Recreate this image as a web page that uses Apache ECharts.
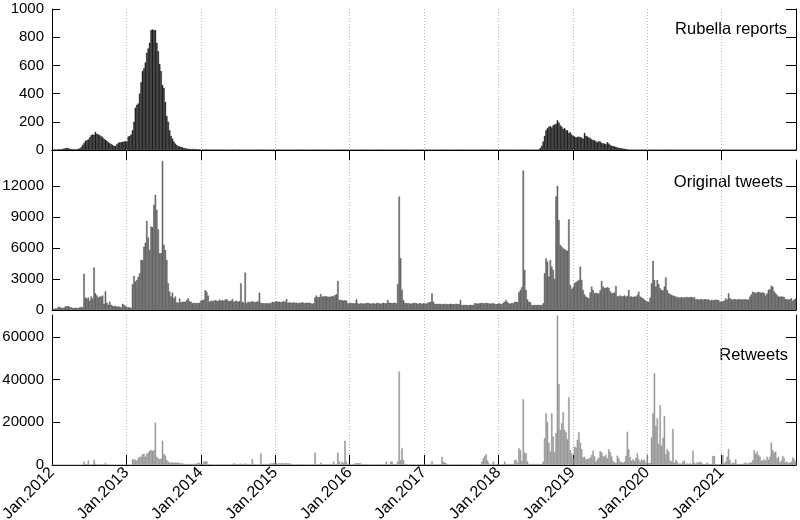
<!DOCTYPE html>
<html><head><meta charset="utf-8">
<script src="https://cdn.jsdelivr.net/npm/echarts@6/dist/echarts.min.js"></script>
<style>html,body{margin:0;padding:0;background:#fff}#c{width:800px;height:520px}</style>
</head><body><div id="c"></div>
<script>
// ---- data: weekly counts, week 0 starts 1 Jan 2012 ----
const startYear = 2012;
const endYear = 2022;
const yearTicks = [2012,2013,2014,2015,2016,2017,2018,2019,2020,2021];
const rubellaTicks = [0,200,400,600,800,1000];
const tweetTicks = [0,3000,6000,9000,12000];
const retweetTicks = [0,20000,40000,60000];
const panelTitles = ['Rubella reports','Original tweets','Retweets'];

const rubella = [
2,3,4,3,5,6,5,8,10,12,
15,12,8,6,5,6,5,6,8,12,
20,35,50,65,70,75,90,105,110,108,
128,115,110,105,98,90,80,72,65,55,
48,42,35,30,28,40,50,55,55,58,
60,62,60,95,100,110,140,200,300,320,
330,400,480,560,580,620,690,720,760,850,
855,850,850,760,700,610,560,460,440,340,
240,200,140,100,80,60,45,35,28,25,
22,18,15,12,10,8,8,7,6,8,
5,6,4,5,4,3,4,3,5,3,
3,4,2,3,2,3,2,2,3,2,
2,3,2,2,1,2,3,2,2,1,
2,2,1,2,3,2,2,1,2,2,
2,1,2,2,1,2,2,3,2,1,
2,2,1,2,1,2,2,1,2,2,
1,2,2,1,2,1,2,1,2,2,
1,2,1,2,1,2,1,1,2,1,
2,1,1,2,1,2,1,1,2,1,
1,2,1,1,2,1,1,2,1,1,
2,1,1,2,1,1,2,1,1,2,
1,1,2,1,1,2,1,1,1,2,
1,1,2,1,1,1,2,1,1,1,
2,1,1,1,2,1,1,1,2,1,
1,1,2,1,1,1,1,2,1,1,
1,2,1,1,1,1,2,1,1,1,
2,1,1,1,1,2,1,1,1,1,
2,1,1,1,1,1,2,1,1,1,
1,2,1,1,1,1,1,2,1,1,
1,1,2,1,1,1,1,1,2,1,
1,1,1,2,1,1,1,1,1,2,
1,1,1,1,2,1,1,1,1,1,
2,1,1,1,1,1,2,1,1,1,
1,2,1,1,1,1,1,2,1,1,
2,5,15,30,60,100,140,155,165,170,
160,175,180,185,210,195,175,165,150,155,
140,140,120,125,110,100,95,90,92,95,
90,88,80,120,100,95,88,85,75,70,
70,60,55,62,60,50,48,45,40,55,
45,35,30,28,25,22,18,15,14,12,
10,8,6,5,4,3,3,2,2,2,
2,1,2,1,1,2,1,1,1,2,
1,1,2,1,1,1,1,2,1,1,
1,1,1,2,1,1,1,1,1,1,
1,0,1,1,0,1,1,0,1,1,
1,0,1,0,1,1,0,1,0,1,
0,1,0,1,0,0,1,0,1,0,
1,0,0,1,0,1,0,0,1,0,
0,1,0,0,1,0,0,1,0,0,
1,0,0,1,0,0,0,1,0,0,
0,1,0,0,0,1,0,0,0,1,
0,0,1,0,0,0,1,0,0,0,
0,1
];

const tweets = [
100,120,130,150,300,280,220,200,230,350,
380,350,300,250,200,200,220,180,200,250,
300,250,3500,1200,1100,1200,900,1300,1100,4100,
1600,1400,1200,1300,1300,1400,600,1800,700,500,
800,500,400,350,400,300,350,300,250,600,
500,400,300,250,250,200,2500,3300,2750,2900,
3200,3550,4850,4800,6100,6500,8600,7000,5800,8060,
8000,10160,11130,9680,7800,5480,5500,14400,6300,5800,
4840,2580,1770,1300,1680,1130,1300,740,700,1100,
740,800,800,800,970,1130,850,800,650,700,
650,700,650,700,900,950,1000,1930,1770,1390,
800,900,850,900,950,900,850,1000,900,950,
900,1000,1060,900,850,900,1060,800,850,900,
800,850,2580,800,700,3610,650,800,750,800,
850,800,750,800,850,1680,700,650,650,650,
650,650,650,650,800,750,800,850,800,800,
750,800,850,800,1060,700,750,700,700,750,
700,700,650,700,700,750,700,650,700,700,
700,650,600,650,1230,1400,1230,1250,1550,1300,
1300,1350,1300,1300,1250,1300,1350,1300,1450,1500,
2800,970,950,970,900,950,900,650,650,700,
650,650,650,1030,650,600,650,650,600,650,
650,700,650,600,650,650,600,650,700,650,
600,650,700,650,650,970,700,700,650,700,
700,650,2520,10970,5000,1940,970,700,650,650,
650,600,650,650,700,650,600,650,650,600,
650,650,600,700,750,800,1610,800,600,580,
580,600,580,550,580,600,580,550,580,600,
580,550,580,600,580,550,970,480,480,500,
480,450,480,500,480,480,650,650,600,650,
650,700,650,650,700,650,650,600,650,650,
600,550,600,650,600,550,700,800,970,750,
650,600,700,650,800,800,750,1700,1940,2200,
13480,3870,1940,1000,800,750,480,480,500,480,
480,500,480,480,650,3550,5000,4680,3230,4840,
4200,3870,3000,10970,12000,8700,6290,6130,5970,5870,
5800,5700,8770,2420,2030,2200,2580,2700,2800,2900,
4190,2900,1940,1500,1290,1200,1130,1700,2260,1940,
1610,1670,1600,1610,1900,2800,2260,2100,2150,2200,
2150,1800,1610,1650,1670,2320,1290,1350,1400,1300,
1350,1400,1300,1350,1940,1290,1300,1250,1300,1290,
1450,1770,1290,1200,1130,1000,900,780,800,1200,
2580,4740,2900,2260,2900,2500,2100,1940,1900,2260,
3160,1940,1610,1550,1450,1400,1350,1290,1250,1200,
1200,1250,1200,1200,1250,1250,1200,1250,1250,1200,
1250,1030,1050,1000,1030,1050,1000,1030,1050,1000,
1030,900,970,950,970,1000,970,950,800,800,
850,900,1130,1000,1610,1130,1030,1000,1050,1030,
1000,1050,1030,1000,1030,1000,1050,1000,1000,1290,
1500,1770,1700,1650,1700,1750,1700,1650,1700,1650,
1400,1600,1940,2000,2350,2250,1800,1610,1450,1290,
1290,1300,1290,1250,1030,1050,1000,1030,1130,900,
1000,1100
];

const retweets = [
100,150,100,120,200,150,100,150,120,100,
150,200,150,100,120,150,100,150,200,150,
200,200,1560,300,500,2030,300,200,400,2340,
600,300,300,250,300,300,250,940,300,250,
200,250,200,200,250,200,200,250,200,250,
200,200,200,250,200,200,2660,2660,2340,2030,
3125,3900,3900,5150,5150,3900,5150,5800,6700,7000,
6500,7000,19840,3900,3125,2660,3000,11400,5150,4375,
2340,1560,1100,1100,1100,1100,1100,1100,1100,780,
780,780,470,470,470,470,470,470,470,470,
600,500,1100,780,600,500,1560,1700,1700,500,
300,300,300,250,300,300,250,300,300,250,
300,300,250,300,300,300,300,780,470,470,
470,470,600,470,470,700,470,470,470,470,
2660,470,300,300,300,300,5470,500,500,500,
500,500,500,780,700,900,800,780,700,800,
780,900,700,780,800,700,780,300,300,300,
300,300,300,300,300,300,300,300,300,300,
300,300,300,300,5780,300,300,300,1100,300,
300,300,300,300,300,300,300,1560,300,300,
5780,1560,500,1560,800,11400,1560,400,300,300,
300,300,780,780,780,780,780,300,300,300,
300,300,300,300,300,300,300,300,300,300,
300,300,300,300,1560,300,300,1560,1560,400,
400,400,1560,43750,2340,7800,2340,400,400,300,
300,300,300,300,300,300,300,300,300,300,
300,300,300,300,300,300,1875,300,300,300,
300,300,300,3900,1560,1100,780,300,300,300,
300,300,300,300,300,300,300,300,300,300,
300,300,300,300,300,300,300,300,300,300,
300,1560,3125,4200,5000,2030,780,300,300,1560,
400,400,400,400,300,300,300,1560,400,400,
400,400,400,400,2340,2340,1000,7800,7000,2000,
30800,5780,5470,1560,470,470,470,470,470,470,
470,470,470,470,1560,12500,24200,20000,10470,6250,
24200,13300,6000,15000,70000,37970,16400,19530,24700,16400,
15300,12000,31700,7000,5470,3000,8600,8100,11700,15300,
10470,7340,3500,3900,2660,2800,3000,3500,4690,6720,
4000,1560,2660,3500,6560,5780,4220,3900,4690,3000,
7340,6100,4000,1900,1200,780,4375,3125,1560,1300,
1100,1500,4220,15600,7340,3600,2000,2660,1800,3400,
5470,2660,1500,2660,2030,2500,1000,4840,780,1000,
13000,24200,42970,18280,21900,9840,28000,9060,12800,23000,
5000,7340,6250,2030,1560,16900,1000,2340,1560,470,
780,470,1560,2030,470,780,470,780,470,6720,
1100,470,1250,1000,1560,1100,470,470,470,1100,
470,470,470,4220,4220,470,300,300,300,470,
4690,800,1560,3900,7500,2340,600,1100,800,2660,
470,470,470,470,470,780,1100,600,780,1100,
1100,2340,7000,5150,6250,4690,3900,2030,2030,2800,
2030,3900,2500,3900,10470,7000,5780,6250,3125,3900,
1100,2000,4220,3125,1100,1560,780,1100,1500,3600,
2660,1500
];

// ---- build chart ----
const FONT = 'Liberation Sans, Arial, Helvetica, sans-serif';
const weekPos = i => startYear + (7 * i + 3.5) / 365.25;
const toPairs = arr => arr.map((v, i) => [weekPos(i), v]);

const grids = [
  {left: 52, right: 4, top: 9, height: 141, containLabel: false, outerBoundsMode: 'none'},
  {left: 52, right: 4, top: 160, height: 150, containLabel: false, outerBoundsMode: 'none'},
  {left: 52, right: 4, top: 315, height: 150, containLabel: false, outerBoundsMode: 'none'}
];
const yMax = [1000, 14500, 70300];
const yTicks = [rubellaTicks, tweetTicks, retweetTicks];
const fills = [
  {color: '#2e2e2e', borderColor: '#000000'},
  {color: '#808080', borderColor: '#303030'},
  {color: '#a4a4a4', borderColor: '#828282'}
];
const seriesData = [rubella, tweets, retweets];

const black = {color: '#000', width: 1};
const xAxes = [];
const yAxes = [];
grids.forEach((g, k) => {
  xAxes.push({
    type: 'value', gridIndex: k, min: startYear, max: endYear, interval: 1,
    position: 'bottom',
    axisLine: {show: true, lineStyle: black},
    axisTick: {show: k === 2, inside: true, length: 10, lineStyle: black, customValues: yearTicks},
    axisLabel: {show: k === 2, rotate: 45, margin: 5, fontFamily: FONT, fontSize: 16, color: '#000',
      customValues: yearTicks, formatter: v => 'Jan.' + v},
    splitLine: {show: true, lineStyle: {type: [1, 2], color: '#b5b5b5', width: 1}}
  });
  if (k === 0) {
    xAxes.push({
      type: 'value', gridIndex: 0, min: startYear, max: endYear, interval: 1,
      position: 'top',
      axisLine: {show: true, lineStyle: black},
      axisTick: {show: true, inside: true, length: 10, lineStyle: black, customValues: yearTicks},
      axisLabel: {show: false}, splitLine: {show: false}
    });
  }
  const base = {
    type: 'value', gridIndex: k, min: 0, max: yMax[k],
    axisLine: {show: true, lineStyle: black},
    splitLine: {show: false}
  };
  yAxes.push(Object.assign({}, base, {
    position: 'left',
    axisTick: {show: true, inside: true, length: 8, lineStyle: black, customValues: yTicks[k]},
    axisLabel: {show: true, margin: 8, fontFamily: FONT, fontSize: 15, color: '#000',
      customValues: yTicks[k], formatter: v => String(v)}
  }));
  yAxes.push(Object.assign({}, base, {
    position: 'right',
    axisTick: {show: true, inside: true, length: 10, lineStyle: black, customValues: yTicks[k]},
    axisLabel: {show: false}
  }));
});

const xIndexOfGrid = [0, 2, 3];
const series = seriesData.map((arr, k) => ({
  type: 'bar', name: panelTitles[k],
  xAxisIndex: xIndexOfGrid[k], yAxisIndex: 2 * k,
  data: toPairs(arr),
  barWidth: 1.43,
  itemStyle: {color: fills[k].color, borderColor: fills[k].borderColor, borderWidth: 0.4},
  silent: true
}));

const titlePos = [[787, 29.5], [783, 182.5], [788, 355]];
const graphic = panelTitles.map((t, k) => ({
  type: 'text', x: titlePos[k][0], y: titlePos[k][1], silent: true,
  style: {text: t, fontFamily: FONT, fontSize: 16.5, fill: '#000', textAlign: 'right', textVerticalAlign: 'middle'}
}));

const chart = echarts.init(document.getElementById('c'), null, {renderer: 'canvas'});
chart.setOption({
  animation: false,
  backgroundColor: '#fff',
  grid: grids,
  xAxis: xAxes,
  yAxis: yAxes,
  series: series,
  graphic: graphic
});
</script>
</body></html>
